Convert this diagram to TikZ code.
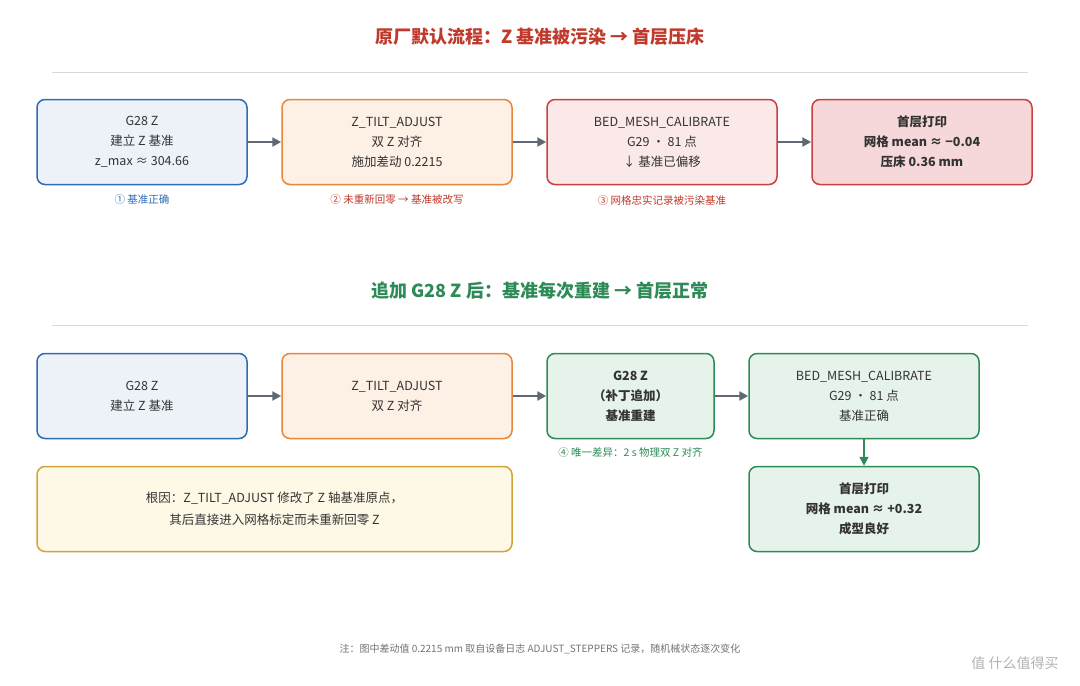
\documentclass[tikz,border=0pt]{standalone}
\usepackage{fontspec}
\setmainfont{Noto Sans CJK SC}
\usetikzlibrary{positioning,arrows.meta}
\definecolor{bluebd}{HTML}{2E6DB4}\definecolor{bluebg}{HTML}{EDF2F9}
\definecolor{orgbd}{HTML}{E8873A}\definecolor{orgbg}{HTML}{FDF0E4}
\definecolor{redbd}{HTML}{C94040}\definecolor{redbg}{HTML}{FBE8E8}
\definecolor{redhi}{HTML}{F7D8DA}\definecolor{redtx}{HTML}{C0392B}
\definecolor{grnbd}{HTML}{2E8B57}\definecolor{grnbg}{HTML}{E6F3EA}
\definecolor{ylwbd}{HTML}{D4A23A}\definecolor{ylwbg}{HTML}{FEF8E6}
\definecolor{arr}{HTML}{5F6873}\definecolor{txt}{HTML}{333333}
\tikzset{
  box/.style={draw, line width=1.5pt, rounded corners=8pt, align=center,
    text=txt, font=\fontsize{12.5}{20}\selectfont, minimum height=85pt, inner sep=0pt},
  flowarrow/.style={-{Triangle[length=9pt,width=9pt]}, line width=2.2pt, draw=arr},
  note/.style={font=\fontsize{10.5}{12}\selectfont},
  ttl/.style={font=\fontsize{18}{21}\selectfont\bfseries}
}
\begin{document}
\begin{tikzpicture}[x=1pt,y=-1pt]
  \useasboundingbox[fill=white] (0,0) rectangle (1080,686);

  % Faulty flow
  \node[ttl, text=redtx] (t1) at (540,37) {原厂默认流程：Z 基准被污染 → 首层压床};
  \draw[black!15, line width=0.8pt] (52,72) -- (1028,72);
  \node[box, draw=bluebd, fill=bluebg, minimum width=210pt] (a1) at (142,142) {G28 Z\\建立 Z 基准\\z\_max ≈ 304.66};
  \node[box, draw=orgbd, fill=orgbg, minimum width=230pt] (a2) at (397,142) {Z\_TILT\_ADJUST\\双 Z 对齐\\施加差动 0.2215};
  \node[box, draw=redbd, fill=redbg, minimum width=230pt] (a3) at (662,142) {BED\_MESH\_CALIBRATE\\G29 · 81 点\\↓ 基准已偏移};
  \node[box, draw=redbd, fill=redhi, minimum width=220pt, font=\fontsize{12.5}{20}\selectfont\bfseries] (a4) at (922,142) {首层打印\\网格 mean ≈ −0.04\\压床 0.36 mm};
  \foreach \s/\t in {a1/a2,a2/a3,a3/a4}
    \draw[flowarrow] (\s) -- (\t);
  \node[note, text=bluebd] (c1) at (142,200) {① 基准正确};
  \node[note, text=redtx] (c2) at (397,200) {② 未重新回零 → 基准被改写};
  \node[note, text=redtx] (c3) at (662,200) {③ 网格忠实记录被污染基准};

  % Fixed flow
  \node[ttl, text=grnbd] (t2) at (540,291) {追加 G28 Z 后：基准每次重建 → 首层正常};
  \draw[black!15, line width=0.8pt] (52,325) -- (1028,325);
  \node[box, draw=bluebd, fill=bluebg, minimum width=210pt] (b1) at (142,396) {G28 Z\\建立 Z 基准};
  \node[box, draw=orgbd, fill=orgbg, minimum width=230pt] (b2) at (397,396) {Z\_TILT\_ADJUST\\双 Z 对齐};
  \node[box, draw=grnbd, fill=grnbg, minimum width=167pt, font=\fontsize{12.5}{20}\selectfont\bfseries] (b3) at (630.5,396) {G28 Z\\（补丁追加）\\基准重建};
  \node[box, draw=grnbd, fill=grnbg, minimum width=230pt] (b4) at (864,396) {BED\_MESH\_CALIBRATE\\G29 · 81 点\\基准正确};
  \node[box, draw=grnbd, fill=grnbg, minimum width=230pt, font=\fontsize{12.5}{20}\selectfont\bfseries] (b5) at (864,509) {首层打印\\网格 mean ≈ +0.32\\成型良好};
  \foreach \s/\t in {b1/b2,b2/b3,b3/b4}
    \draw[flowarrow] (\s) -- (\t);
  \draw[flowarrow, draw=grnbd, line width=1.6pt] (b4) -- (b5);
  \node[note, text=grnbd] (c4) at (630.5,453) {④ 唯一差异：2 s 物理双 Z 对齐};
  \node[box, draw=ylwbd, fill=ylwbg, minimum width=475pt, font=\fontsize{12.5}{22}\selectfont] (why) at (274.5,509) {根因：Z\_TILT\_ADJUST 修改了 Z 轴基准原点，\\其后直接进入网格标定而未重新回零 Z};

  % Footnote
  \node[note, text=black!55, font=\fontsize{10}{12}\selectfont] (fn) at (540,649) {注：图中差动值 0.2215 mm 取自设备日志 ADJUST\_STEPPERS 记录，随机械状态逐次变化};
  \node[text=black!30, font=\fontsize{14}{16}\selectfont] (wm) at (1015,663) {值 什么值得买};
\end{tikzpicture}
\end{document}
